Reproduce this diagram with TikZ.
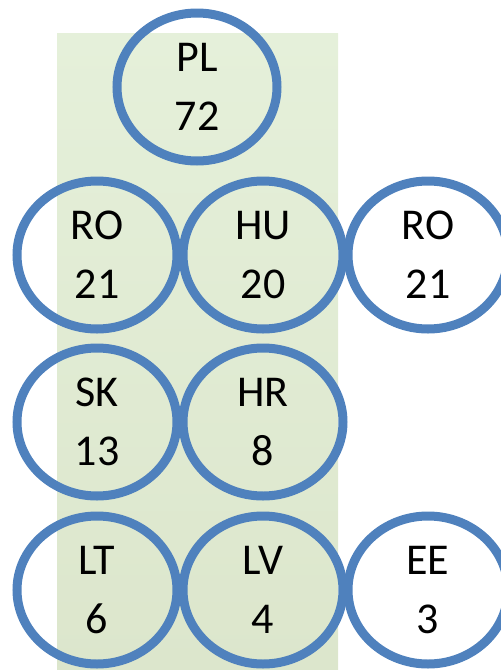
\documentclass[tikz,border=0pt]{standalone}
\usepackage{fontspec}
\setmainfont{Carlito}
\usetikzlibrary{shapes.geometric}
\definecolor{ringblue}{HTML}{4F81BD}
\definecolor{bandtop}{HTML}{E5F0DA}
\definecolor{bandbot}{HTML}{DCE6CC}
\tikzset{
  land/.style={ellipse, draw=ringblue, line width=9pt, minimum width=160pt,
    minimum height=148pt, inner sep=0pt, align=center,
    font=\fontsize{44}{59}\selectfont}
}
\begin{document}
\begin{tikzpicture}[x=1pt, y=-1pt]
  \def\ca{97} \def\cb{263} \def\cc{428}
  \def\ra{255} \def\rb{422} \def\rc{590}
  \useasboundingbox (0,0) rectangle (501,670);
  % band behind the first two columns
  \shade[top color=bandtop, bottom color=bandbot] (57,33) rectangle (338,670);
  \node[land] (pl) at (197,87) {PL\\72};
  \node[land] (ro) at (\ca,\ra) {RO\\21};
  \node[land] (hu) at (\cb,\ra) {HU\\20};
  \node[land] (rob) at (\cc,\ra) {RO\\21};
  \node[land] (sk) at (\ca,\rb) {SK\\13};
  \node[land] (hr) at (\cb,\rb) {HR\\8};
  \node[land] (lt) at (\ca,\rc) {LT\\6};
  \node[land] (lv) at (\cb,\rc) {LV\\4};
  \node[land] (ee) at (\cc,\rc) {EE\\3};
\end{tikzpicture}
\end{document}
